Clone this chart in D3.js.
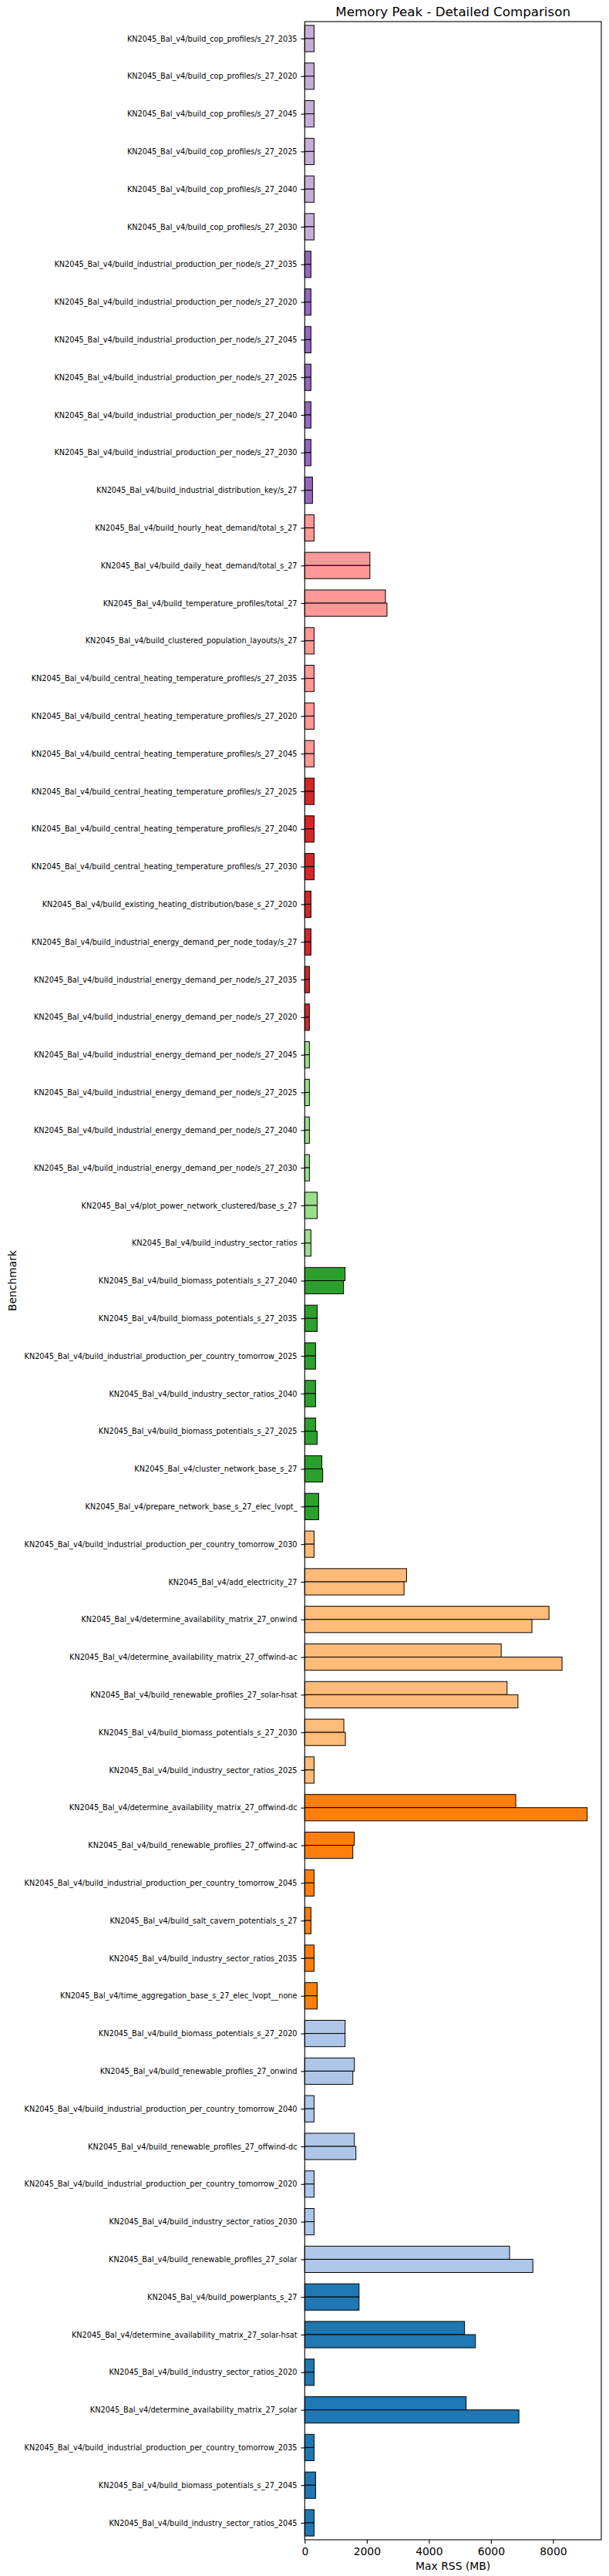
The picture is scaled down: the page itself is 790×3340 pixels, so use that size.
<!DOCTYPE html>
<html>
<head>
<meta charset="utf-8">
<script src="https://cdn.jsdelivr.net/npm/d3@7"></script>
<style>
  body { margin: 0; background: #fff; }
  svg { font-family: "DejaVu Sans", sans-serif; }
</style>
</head>
<body>
<div id="chart"></div>
<script>
// Memory peak per benchmark, two runs, listed top to bottom as drawn
const benchmarks = [
  "KN2045_Bal_v4/build_cop_profiles/s_27_2035",
  "KN2045_Bal_v4/build_cop_profiles/s_27_2020",
  "KN2045_Bal_v4/build_cop_profiles/s_27_2045",
  "KN2045_Bal_v4/build_cop_profiles/s_27_2025",
  "KN2045_Bal_v4/build_cop_profiles/s_27_2040",
  "KN2045_Bal_v4/build_cop_profiles/s_27_2030",
  "KN2045_Bal_v4/build_industrial_production_per_node/s_27_2035",
  "KN2045_Bal_v4/build_industrial_production_per_node/s_27_2020",
  "KN2045_Bal_v4/build_industrial_production_per_node/s_27_2045",
  "KN2045_Bal_v4/build_industrial_production_per_node/s_27_2025",
  "KN2045_Bal_v4/build_industrial_production_per_node/s_27_2040",
  "KN2045_Bal_v4/build_industrial_production_per_node/s_27_2030",
  "KN2045_Bal_v4/build_industrial_distribution_key/s_27",
  "KN2045_Bal_v4/build_hourly_heat_demand/total_s_27",
  "KN2045_Bal_v4/build_daily_heat_demand/total_s_27",
  "KN2045_Bal_v4/build_temperature_profiles/total_27",
  "KN2045_Bal_v4/build_clustered_population_layouts/s_27",
  "KN2045_Bal_v4/build_central_heating_temperature_profiles/s_27_2035",
  "KN2045_Bal_v4/build_central_heating_temperature_profiles/s_27_2020",
  "KN2045_Bal_v4/build_central_heating_temperature_profiles/s_27_2045",
  "KN2045_Bal_v4/build_central_heating_temperature_profiles/s_27_2025",
  "KN2045_Bal_v4/build_central_heating_temperature_profiles/s_27_2040",
  "KN2045_Bal_v4/build_central_heating_temperature_profiles/s_27_2030",
  "KN2045_Bal_v4/build_existing_heating_distribution/base_s_27_2020",
  "KN2045_Bal_v4/build_industrial_energy_demand_per_node_today/s_27",
  "KN2045_Bal_v4/build_industrial_energy_demand_per_node/s_27_2035",
  "KN2045_Bal_v4/build_industrial_energy_demand_per_node/s_27_2020",
  "KN2045_Bal_v4/build_industrial_energy_demand_per_node/s_27_2045",
  "KN2045_Bal_v4/build_industrial_energy_demand_per_node/s_27_2025",
  "KN2045_Bal_v4/build_industrial_energy_demand_per_node/s_27_2040",
  "KN2045_Bal_v4/build_industrial_energy_demand_per_node/s_27_2030",
  "KN2045_Bal_v4/plot_power_network_clustered/base_s_27",
  "KN2045_Bal_v4/build_industry_sector_ratios",
  "KN2045_Bal_v4/build_biomass_potentials_s_27_2040",
  "KN2045_Bal_v4/build_biomass_potentials_s_27_2035",
  "KN2045_Bal_v4/build_industrial_production_per_country_tomorrow_2025",
  "KN2045_Bal_v4/build_industry_sector_ratios_2040",
  "KN2045_Bal_v4/build_biomass_potentials_s_27_2025",
  "KN2045_Bal_v4/cluster_network_base_s_27",
  "KN2045_Bal_v4/prepare_network_base_s_27_elec_lvopt_",
  "KN2045_Bal_v4/build_industrial_production_per_country_tomorrow_2030",
  "KN2045_Bal_v4/add_electricity_27",
  "KN2045_Bal_v4/determine_availability_matrix_27_onwind",
  "KN2045_Bal_v4/determine_availability_matrix_27_offwind-ac",
  "KN2045_Bal_v4/build_renewable_profiles_27_solar-hsat",
  "KN2045_Bal_v4/build_biomass_potentials_s_27_2030",
  "KN2045_Bal_v4/build_industry_sector_ratios_2025",
  "KN2045_Bal_v4/determine_availability_matrix_27_offwind-dc",
  "KN2045_Bal_v4/build_renewable_profiles_27_offwind-ac",
  "KN2045_Bal_v4/build_industrial_production_per_country_tomorrow_2045",
  "KN2045_Bal_v4/build_salt_cavern_potentials_s_27",
  "KN2045_Bal_v4/build_industry_sector_ratios_2035",
  "KN2045_Bal_v4/time_aggregation_base_s_27_elec_lvopt__none",
  "KN2045_Bal_v4/build_biomass_potentials_s_27_2020",
  "KN2045_Bal_v4/build_renewable_profiles_27_onwind",
  "KN2045_Bal_v4/build_industrial_production_per_country_tomorrow_2040",
  "KN2045_Bal_v4/build_renewable_profiles_27_offwind-dc",
  "KN2045_Bal_v4/build_industrial_production_per_country_tomorrow_2020",
  "KN2045_Bal_v4/build_industry_sector_ratios_2030",
  "KN2045_Bal_v4/build_renewable_profiles_27_solar",
  "KN2045_Bal_v4/build_powerplants_s_27",
  "KN2045_Bal_v4/determine_availability_matrix_27_solar-hsat",
  "KN2045_Bal_v4/build_industry_sector_ratios_2020",
  "KN2045_Bal_v4/determine_availability_matrix_27_solar",
  "KN2045_Bal_v4/build_industrial_production_per_country_tomorrow_2035",
  "KN2045_Bal_v4/build_biomass_potentials_s_27_2045",
  "KN2045_Bal_v4/build_industry_sector_ratios_2045"
];

// max RSS (MB), upper bar of each pair
const upperRss = [
  300, 300, 300, 300, 300, 300,
  200, 200, 200, 200, 200, 200,
  250, 300, 2100, 2600, 300,
  300, 300, 300, 300, 300, 300,
  200, 200, 150, 150, 150, 150, 150, 150,
  400, 200, 1300, 400, 350, 350, 350, 550, 450,
  300, 3280, 7870, 6330, 6520, 1260, 300, 6800, 1600,
  300, 200, 300, 400, 1300, 1600, 300, 1600, 300, 300,
  6600, 1750, 5150, 300, 5200, 300, 350, 300
];
// max RSS (MB), lower bar of each pair
const lowerRss = [
  300, 300, 300, 300, 300, 300,
  200, 200, 200, 200, 200, 200,
  250, 300, 2100, 2650, 300,
  300, 300, 300, 300, 300, 300,
  200, 200, 150, 150, 150, 150, 150, 150,
  400, 200, 1250, 400, 350, 350, 400, 580, 450,
  300, 3200, 7320, 8290, 6870, 1310, 300, 9100, 1550,
  300, 200, 300, 400, 1300, 1550, 300, 1650, 300, 300,
  7350, 1750, 5500, 300, 6900, 300, 350, 300
];

const xTicks = [0, 2000, 4000, 6000, 8000];

// tab20, first ten entries
const palette = ["#1f77b4","#aec7e8","#ff7f0e","#ffbb78","#2ca02c","#98df8a","#d62728","#ff9896","#9467bd","#c5b0d5"];
// colour bands counted from the bottom row
const bandEnds = [7, 14, 20, 27, 34, 40, 47, 54, 61, 67];
const nRows = benchmarks.length;
const colorOf = i => {          // i = index from the top
  const fromBottom = nRows - 1 - i;
  return palette[bandEnds.findIndex(e => fromBottom < e)];
};

const W = 790, H = 3340;
const M = {left: 395.3, right: 10, top: 28, bottom: 47};

const svg = d3.select("#chart").append("svg").attr("width", W).attr("height", H);

const x = d3.scaleLinear()
  .domain([0, d3.max(upperRss.concat(lowerRss)) * 1.05])
  .range([M.left, W - M.right]);

// row positions in category units (top row = nRows-1)
const y = d3.scaleLinear()
  .domain([-0.45, nRows - 1 + 0.45])
  .range([H - M.bottom, M.top]);

const barH = 0.35;
const rows = benchmarks.map((b, i) => ({name: b, pos: nRows - 1 - i, up: upperRss[i], lo: lowerRss[i], color: colorOf(i)}));

const g = svg.append("g");
g.selectAll(".bar-up").data(rows).enter().append("rect")
  .attr("x", x(0)).attr("y", d => y(d.pos + barH))
  .attr("width", d => x(d.up) - x(0)).attr("height", d => y(d.pos) - y(d.pos + barH))
  .attr("fill", d => d.color).attr("stroke", "#000").attr("stroke-width", 1);
g.selectAll(".bar-lo").data(rows).enter().append("rect")
  .attr("x", x(0)).attr("y", d => y(d.pos))
  .attr("width", d => x(d.lo) - x(0)).attr("height", d => y(d.pos - barH) - y(d.pos))
  .attr("fill", d => d.color).attr("stroke", "#000").attr("stroke-width", 1);

// y axis
const yAxis = d3.axisLeft(y).tickValues(rows.map(d => d.pos))
  .tickFormat(p => benchmarks[nRows - 1 - p]).tickSize(4.9).tickPadding(4.9);
svg.append("g").attr("transform", `translate(${M.left},0)`).call(yAxis)
  .call(a => a.select(".domain").remove())
  .call(a => a.selectAll("text").attr("font-size", "9.72px").attr("fill", "#000").attr("font-family", "DejaVu Sans"))
  .call(a => a.selectAll("line").attr("stroke", "#000").attr("stroke-width", 1.1));

// x axis
const xAxis = d3.axisBottom(x).tickValues(xTicks).tickFormat(d3.format("d")).tickSize(4.9).tickPadding(4.9);
svg.append("g").attr("transform", `translate(0,${H - M.bottom})`).call(xAxis)
  .call(a => a.select(".domain").remove())
  .call(a => a.selectAll("text").attr("font-size", "13.9px").attr("fill", "#000").attr("font-family", "DejaVu Sans"))
  .call(a => a.selectAll("line").attr("stroke", "#000").attr("stroke-width", 1.1));

// frame
svg.append("rect").attr("x", M.left).attr("y", M.top)
  .attr("width", W - M.right - M.left).attr("height", H - M.bottom - M.top)
  .attr("fill", "none").attr("stroke", "#000").attr("stroke-width", 1.1);

svg.append("text").attr("x", (M.left + W - M.right) / 2).attr("y", M.top - 7)
  .attr("text-anchor", "middle").attr("font-size", "16.7px").text("Memory Peak - Detailed Comparison");
svg.append("text").attr("x", (M.left + W - M.right) / 2).attr("y", H - 8)
  .attr("text-anchor", "middle").attr("font-size", "13.9px").text("Max RSS (MB)");
svg.append("text").attr("transform", `translate(21,${(M.top + H - M.bottom) / 2}) rotate(-90)`)
  .attr("text-anchor", "middle").attr("font-size", "13.9px").text("Benchmark");
</script>
</body>
</html>
